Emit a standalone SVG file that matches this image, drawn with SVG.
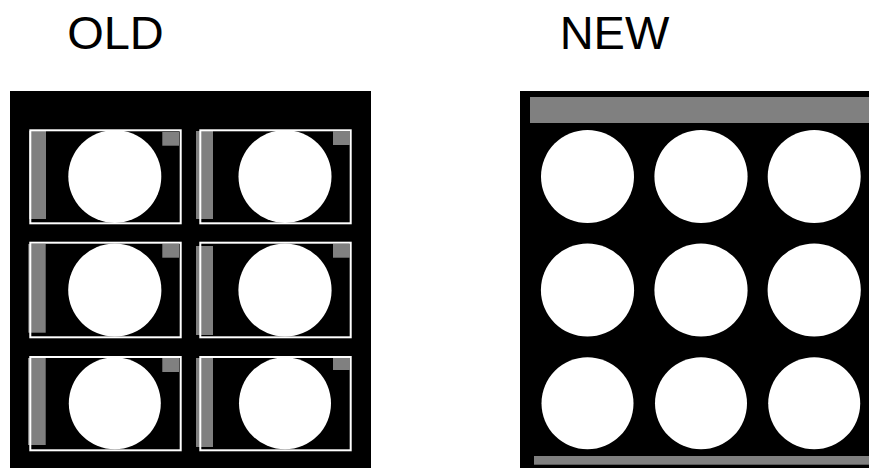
<svg xmlns="http://www.w3.org/2000/svg" width="869" height="468" viewBox="0 0 869 468">
<style>
.lbl{font-family:"Liberation Sans",Arial,sans-serif;font-size:47px;fill:#000;text-anchor:middle}
.panel{fill:#000}
.frame{fill:none;stroke:#fff;stroke-width:2}
.gray{fill:#808080}
.disc{fill:#fff}
</style>
<rect width="869" height="468" fill="#fff"/>
<g id="title-old"><text class="lbl" x="115.5" y="49">OLD</text></g>
<g id="title-new"><text class="lbl" x="614.5" y="49">NEW</text></g>

<g id="old-panel">
<rect class="panel" x="10" y="91" width="361" height="377"/>
<g id="old-r1c1">
<rect class="gray" x="29" y="131" width="17" height="88"/>
<rect class="frame" x="30.3" y="130.3" width="150.4" height="93"/>
<rect class="gray" x="162.3" y="132" width="16.7" height="13.7"/>
<circle class="disc" cx="114.8" cy="176.4" r="46.5"/>
</g>
<g id="old-r1c2">
<rect class="gray" x="196" y="131" width="17" height="88"/>
<rect class="frame" x="200.3" y="130.3" width="150.4" height="93"/>
<rect class="gray" x="333" y="131" width="17" height="14"/>
<circle class="disc" cx="285" cy="176.4" r="46.5"/>
</g>
<g id="old-r2c1">
<rect class="gray" x="28.3" y="244" width="17.4" height="88.7"/>
<rect class="frame" x="30.3" y="242.7" width="150.4" height="94.6"/>
<rect class="gray" x="162.3" y="244" width="16.7" height="13.7"/>
<circle class="disc" cx="114.8" cy="290" r="46.6"/>
</g>
<g id="old-r2c2">
<rect class="gray" x="196" y="246" width="17" height="89"/>
<rect class="frame" x="200.3" y="242.7" width="150.4" height="94.6"/>
<rect class="gray" x="333" y="244" width="17" height="13.7"/>
<circle class="disc" cx="285" cy="290" r="46.6"/>
</g>
<g id="old-r3c1">
<rect class="gray" x="28" y="358" width="17.7" height="87"/>
<rect class="frame" x="30.3" y="357" width="150.4" height="93.3"/>
<rect class="gray" x="162.3" y="358" width="16.7" height="14"/>
<circle class="disc" cx="114.8" cy="403.3" r="46"/>
</g>
<g id="old-r3c2">
<rect class="gray" x="196" y="358" width="17" height="89"/>
<rect class="frame" x="200.3" y="357" width="150.4" height="93.3"/>
<rect class="gray" x="333" y="358" width="17" height="12"/>
<circle class="disc" cx="285" cy="403.3" r="46"/>
</g>
</g>

<g id="new-panel">
<rect class="panel" x="520" y="91" width="349" height="377"/>
<rect class="gray" x="530" y="97" width="339" height="26"/>
<rect class="gray" x="534" y="456" width="335" height="8.7"/>
<g id="new-r1">
<circle class="disc" cx="587.5" cy="176.5" r="46.5"/>
<circle class="disc" cx="701" cy="176.5" r="46.6"/>
<circle class="disc" cx="814.2" cy="176.5" r="46.5"/>
</g>
<g id="new-r2">
<circle class="disc" cx="587.5" cy="290" r="46.6"/>
<circle class="disc" cx="701" cy="290" r="46.6"/>
<circle class="disc" cx="814.2" cy="290" r="46.6"/>
</g>
<g id="new-r3">
<circle class="disc" cx="587.5" cy="403.3" r="46"/>
<circle class="disc" cx="701" cy="403.3" r="46"/>
<circle class="disc" cx="814.2" cy="403.3" r="46"/>
</g>
</g>
</svg>
